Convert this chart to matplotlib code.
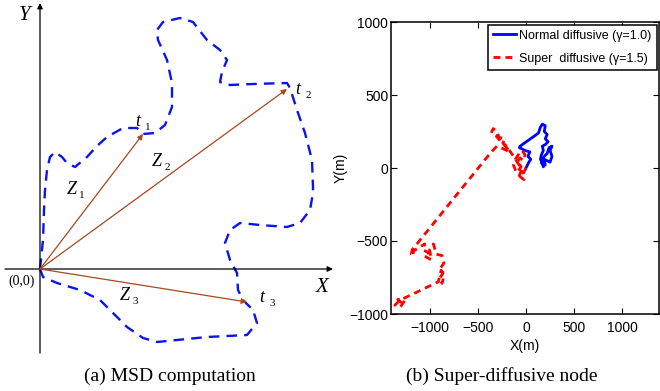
import matplotlib
matplotlib.use("Agg")
import matplotlib.pyplot as plt

# ---- left panel: MSD sketch (coordinates relative to origin) ----
curve_x = [0, 3, 4, 5, 7, 10, 15, 22, 27, 35, 47, 57, 67, 83, 97, 103, 115, 125,
           132, 132, 127, 118, 117, 123, 140, 153, 167, 180, 187, 182, 180, 190,
           213, 247, 250, 257, 265, 272, 273, 273, 270, 260, 247, 220, 200, 190,
           185, 190, 197, 198, 203, 213, 217, 207, 167, 117, 103, 87, 73, 60, 40,
           17, 3, 0]
curve_y = [0, 29, 59, 79, 99, 112, 117, 112, 106, 102, 112, 123, 132, 141, 141,
           135, 136, 144, 162, 186, 209, 229, 239, 247, 251, 247, 229, 219, 209,
           197, 187, 184, 185, 186, 181, 159, 136, 109, 82, 76, 59, 46, 42, 44,
           46, 39, 26, 9, -4, -21, -31, -41, -54, -66, -68, -73, -69, -58, -44,
           -31, -21, -14, -8, 0]
arrow_ends = [(103, 135), (247, 180), (207, -33)]
point_labels = ["t", "t", "t"]
point_subs = ["1", "2", "3"]
point_pos = [(98, 147), (258, 179), (222, -28)]
vec_labels = ["Z", "Z", "Z"]
vec_subs = ["1", "2", "3"]
vec_pos = [(32, 80), (117, 107), (85, -26)]

# ---- right panel: random walk traces ----
normal_x = [0, 30, 50, 20, 40, -10, -70, -60, 100, 130, 150, 170, 200, 190, 220,
            200, 230, 200, 170, 180, 160, 150, 170, 200, 190, 220, 250, 270, 250,
            270, 240, 220, 190, 160, 180]
normal_y = [0, 40, 60, 80, 110, 120, 140, 150, 225, 240, 280, 300, 290, 250, 230,
            200, 180, 160, 150, 120, 90, 60, 30, 20, 60, 50, 40, 80, 120, 150, 140,
            100, 80, 40, 10]
super_x = [0, -30, -20, -60, -80, -50, -90, -60, -30, -10, -40, -70, -110, -130,
           -100, -70, -40, -200, -240, -220, -280, -300, -340, -360, -310, -260,
           -200, -170, -230, -300, -360, -1180, -1190, -1160, -1170, -1050, -1070,
           -1010, -1060, -980, -1000, -960, -930, -870, -850, -890, -860, -900,
           -870, -850, -880, -910, -1290, -1330, -1360, -1300, -1260, -1330, -1280]
super_y = [0, -40, -80, -60, -20, 10, 40, 70, 50, 90, 120, 100, 60, 20, -30, -50,
           -10, 150, 170, 200, 210, 250, 270, 240, 220, 180, 140, 110, 130, 150,
           110, -560, -590, -600, -570, -520, -560, -580, -600, -630, -560, -520,
           -590, -600, -650, -690, -720, -760, -790, -740, -700, -780, -900, -920,
           -940, -950, -910, -900, -930]
ticks = [-1000, -500, 0, 500, 1000]

serif = "Liberation Serif"
sans = "Liberation Sans"
brown = "#a8481e"

fig = plt.figure(figsize=(6.6, 3.91), dpi=100)

# left sketch, 1 data unit == 1 pixel
ax1 = fig.add_axes([0, 31 / 391, 340 / 660, 360 / 391])
ax1.set_xlim(-40, 300)
ax1.set_ylim(-91, 269)
ax1.axis("off")

ax1.annotate("", xy=(0, 266), xytext=(0, -84),
             arrowprops=dict(arrowstyle="-|>", color="black", lw=0.9,
                             mutation_scale=8, shrinkA=0, shrinkB=0))
ax1.annotate("", xy=(293, 0), xytext=(-35, 0),
             arrowprops=dict(arrowstyle="-|>", color="black", lw=0.9,
                             mutation_scale=8, shrinkA=0, shrinkB=0))
ax1.plot(curve_x, curve_y, color="#0a14f0", lw=1.7, ls=(0, (4.5, 3.0)),
         solid_joinstyle="round")
for ex, ey in arrow_ends:
    ax1.annotate("", xy=(ex, ey), xytext=(0, 0),
                 arrowprops=dict(arrowstyle="-|>", color=brown, lw=0.9,
                                 mutation_scale=8, shrinkA=0, shrinkB=0))

ax1.text(-15, 254, "Y", fontsize=15, family=serif, style="italic",
         ha="center", va="center")
ax1.text(282, -18, "X", fontsize=15, family=serif, style="italic",
         ha="center", va="center")
ax1.text(-18, -12, "(0,0)", fontsize=10, family=serif, ha="center", va="center")
for lab, sub, (px, py) in zip(point_labels + vec_labels, point_subs + vec_subs,
                              point_pos + vec_pos):
    ax1.text(px, py, lab, fontsize=13, family=serif, style="italic",
             ha="center", va="center")
    ax1.text(px + 10, py - 6, sub, fontsize=8, family=serif,
             ha="center", va="center")

fig.text(170 / 660, 1 - 376 / 391, "(a) MSD computation", fontsize=14,
         family=serif, ha="center", va="center")
fig.text(502 / 660, 1 - 376 / 391, "(b) Super-diffusive node", fontsize=14,
         family=serif, ha="center", va="center")

# right plot
ax2 = fig.add_axes([391 / 660, 77 / 391, 268 / 660, 292 / 391])
ax2.plot(normal_x, normal_y, color="#0000ff", lw=2,
         label="Normal diffusive (\u03b3=1.0)")
ax2.plot(super_x, super_y, color="#ff0000", lw=2, ls=(0, (2.5, 1.8)),
         label="Super  diffusive (\u03b3=1.5)")
ax2.set_xlim(-1400, 1380)
ax2.set_ylim(-1000, 1000)
ax2.set_xticks(ticks)
ax2.set_yticks(ticks)
ax2.tick_params(direction="in", top=True, right=True, length=4, width=0.8,
                labelsize=10)
ax2.tick_params(axis="x", pad=5)
ax2.tick_params(axis="y", pad=2)
for lbl in ax2.get_xticklabels() + ax2.get_yticklabels():
    lbl.set_family(sans)
for sp in ax2.spines.values():
    sp.set_linewidth(1.1)
ax2.set_xlabel("X(m)", fontsize=10, family=sans, labelpad=3)
ax2.set_ylabel("Y(m)", fontsize=10, family=sans, labelpad=1)
leg = ax2.legend(loc="upper right", prop={"family": sans, "size": 9},
                 fancybox=False, edgecolor="black", framealpha=1,
                 borderaxespad=0.2, handlelength=1.8, handletextpad=0.3,
                 borderpad=0.4, labelspacing=0.9)
leg.get_frame().set_linewidth(1.1)

fig.savefig("out.png", dpi=100)
